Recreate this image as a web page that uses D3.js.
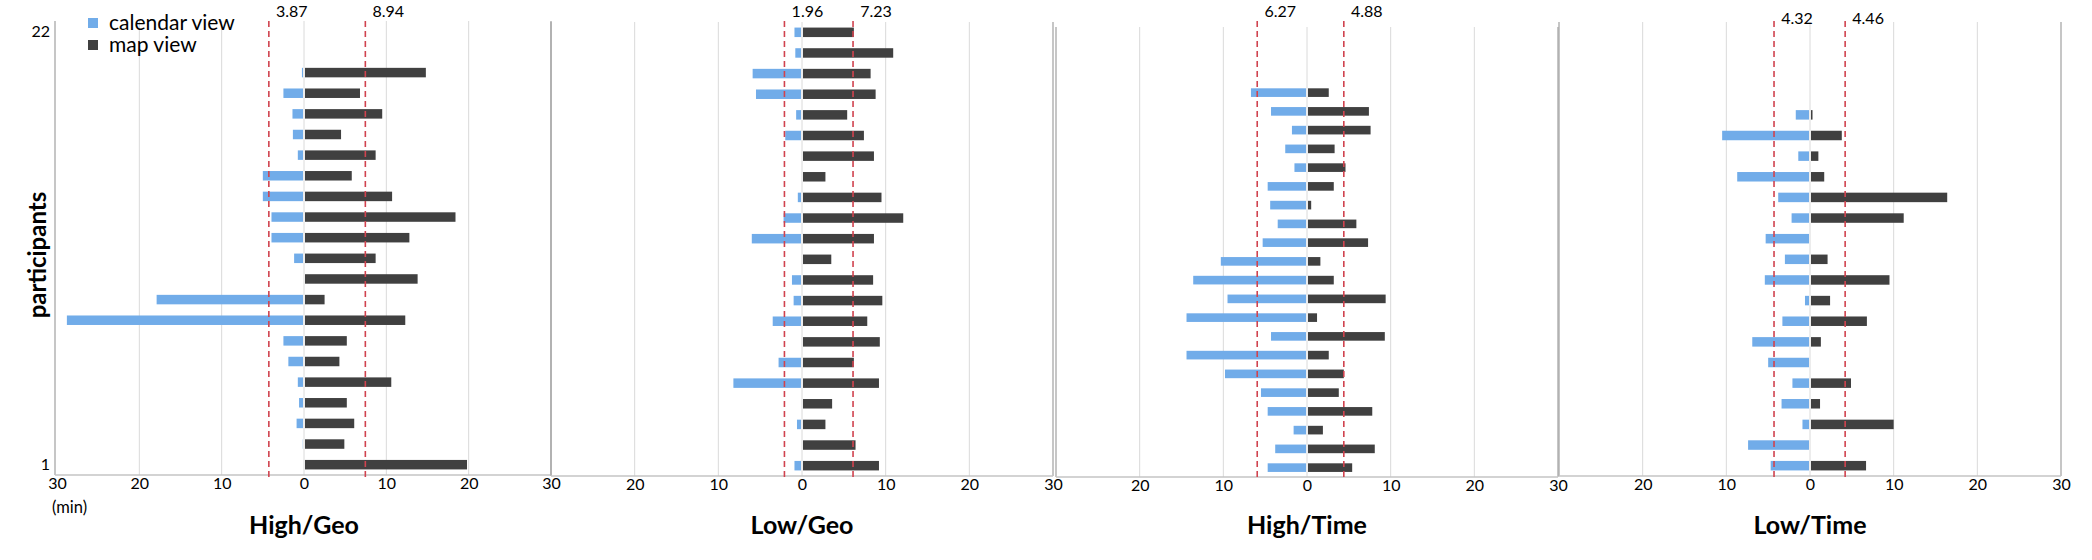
<!DOCTYPE html>
<html>
<head>
<meta charset="utf-8">
<script src="https://cdn.jsdelivr.net/npm/d3@7"></script>
<style>
  body { margin: 0; background: #fff; }
  svg text { font-family: Lato, "Open Sans", sans-serif; fill: #000; }
</style>
</head>
<body>
<svg id="chart" width="2092" height="560"></svg>
<script>
// ---- data (minutes, participant 1 first) ----
var panelNames = ["High/Geo", "Low/Geo", "High/Time", "Low/Time"];
var seriesNames = ["calendar view", "map view"];

var highGeoCalendar = [0, 0.15, 0.9, 0.6, 0.75, 1.9, 2.5, 28.8, 17.9, 0, 1.2, 3.95, 3.95, 5.0, 5.0, 0.75, 1.35, 1.4, 2.5, 0.25];
var highGeoMap      = [19.8, 4.9, 6.1, 5.2, 10.6, 4.3, 5.2, 12.3, 2.5, 13.8, 8.7, 12.8, 18.4, 10.7, 5.8, 8.7, 4.5, 9.5, 6.8, 14.8];

var lowGeoCalendar  = [0.9, 0, 0.6, 0.1, 8.2, 2.8, 0, 3.5, 1.0, 1.2, 0, 6.0, 2.2, 0.5, 0, 0, 2.0, 0.7, 5.5, 5.9, 0.8, 0.9];
var lowGeoMap       = [9.2, 6.4, 2.8, 3.6, 9.2, 6.2, 9.3, 7.8, 9.6, 8.5, 3.5, 8.6, 12.1, 9.5, 2.8, 8.6, 7.4, 5.4, 8.8, 8.2, 10.9, 6.2];

var highTimeCalendar = [4.7, 3.8, 1.6, 4.7, 5.5, 9.8, 14.4, 4.3, 14.4, 9.5, 13.6, 10.3, 5.3, 3.5, 4.4, 4.7, 1.5, 2.6, 1.8, 4.3, 6.7];
var highTimeMap      = [5.4, 8.1, 1.9, 7.8, 3.8, 4.4, 2.6, 9.3, 1.2, 9.4, 3.2, 1.6, 7.3, 5.9, 0.5, 3.2, 4.6, 3.3, 7.6, 7.4, 2.6];

var lowTimeCalendar = [4.7, 7.4, 0.9, 3.4, 2.1, 5.0, 6.9, 3.3, 0.6, 5.4, 3.0, 5.3, 2.2, 3.8, 8.7, 1.4, 10.5, 1.7];
var lowTimeMap      = [6.7, 0, 10.0, 1.2, 4.9, 0, 1.3, 6.8, 2.4, 9.5, 2.1, 0, 11.2, 16.4, 1.7, 1.0, 3.8, 0.3];

// dashed reference lines (min, calendar side negative) and their labels
var refLines  = [[-4.27, 7.45], [-2.1, 6.1], [-5.95, 4.4], [-4.3, 4.2]];
var refLabels = [["3.87", "8.94"], ["1.96", "7.23"], ["6.27", "4.88"], ["4.32", "4.46"]];

var slotCounts = [22, 22, 24, 22];
var xTicks = [-30, -20, -10, 0, 10, 20, 30];
var gridTicks = [-20, -10, 0, 10, 20];
var yTickLabels = [1, 22];

var calendarData = [highGeoCalendar, lowGeoCalendar, highTimeCalendar, lowTimeCalendar];
var mapData = [highGeoMap, lowGeoMap, highTimeMap, lowTimeMap];

// ---- layout ----
var panels = [
  {left: 57,   right: 551,  top: 21, bottom: 475},
  {left: 551,  right: 1053, top: 22, bottom: 476},
  {left: 1056, right: 1558, top: 27, bottom: 477},
  {left: 1559, right: 2061, top: 22, bottom: 476}
];

var calColor = "#71ace9";
var mapColor = "#404040";
var refColor = "#d0434f";

var svg = d3.select("#chart");

panels.forEach(function(p, i) {
  var g = svg.append("g");
  var x = d3.scaleLinear().domain([-30, 30]).range([p.left, p.right]);
  var y = d3.scaleBand()
    .domain(d3.range(1, slotCounts[i] + 1))
    .range([p.bottom, p.top])
    .paddingInner(0.54)
    .paddingOuter(0.27);

  // gridlines
  g.selectAll(".grid").data(gridTicks).enter().append("line")
    .attr("x1", function(d) { return x(d); })
    .attr("x2", function(d) { return x(d); })
    .attr("y1", p.top).attr("y2", p.bottom)
    .style("stroke", "#dadada").style("stroke-width", 1);

  // side axis lines
  g.selectAll(".side").data([-30, 30]).enter().append("line")
    .attr("x1", function(d) { return i == 0 && d < 0 ? x(d) - 2 : x(d); })
    .attr("x2", function(d) { return i == 0 && d < 0 ? x(d) - 2 : x(d); })
    .attr("y1", p.top).attr("y2", p.bottom)
    .style("stroke", "#a8a8a8").style("stroke-width", 1.3);

  // baseline
  g.append("line")
    .attr("x1", x(-30) - (i == 0 ? 2 : 0)).attr("x2", x(30))
    .attr("y1", p.bottom).attr("y2", p.bottom)
    .style("stroke", "#c4c4c4").style("stroke-width", 1.5);

  var rows = calendarData[i].map(function(c, k) {
    return {id: k + 1, cal: c, map: mapData[i][k]};
  });

  // calendar view bars (to the left)
  g.selectAll(".cal").data(rows.filter(function(d) { return d.cal > 0; })).enter().append("rect")
    .attr("x", function(d) { return x(-d.cal); })
    .attr("y", function(d) { return y(d.id); })
    .attr("width", function(d) { return Math.max(0, x(0) - x(-d.cal) - 1); })
    .attr("height", y.bandwidth())
    .style("fill", calColor);

  // map view bars (to the right)
  g.selectAll(".map").data(rows.filter(function(d) { return d.map > 0; })).enter().append("rect")
    .attr("x", x(0) + 1)
    .attr("y", function(d) { return y(d.id); })
    .attr("width", function(d) { return Math.max(0, x(d.map) - x(0) - 1); })
    .attr("height", y.bandwidth())
    .style("fill", mapColor);

  // dashed reference lines + labels
  g.selectAll(".ref").data(refLines[i]).enter().append("line")
    .attr("x1", function(d) { return x(d); })
    .attr("x2", function(d) { return x(d); })
    .attr("y1", 21).attr("y2", p.bottom + 2)
    .style("stroke", refColor).style("stroke-width", 1.6)
    .style("stroke-dasharray", "6,4");

  g.selectAll(".reflabel").data(refLines[i]).enter().append("text")
    .attr("x", function(d) { return x(d) + 23; })
    .attr("y", i == 3 ? 18 : 11)
    .attr("dy", "0.35em")
    .attr("text-anchor", "middle")
    .style("font-size", "16px")
    .text(function(d, k) { return refLabels[i][k]; });

  // x axis
  var ticks = i == 0 ? xTicks : xTicks.slice(1);
  var ax = g.append("g")
    .attr("transform", "translate(0," + p.bottom + ")")
    .call(d3.axisBottom(x).tickValues(ticks).tickSize(0).tickPadding(3)
      .tickFormat(function(d) { return Math.abs(d); }));
  ax.select(".domain").remove();
  ax.selectAll("text").style("font-size", "16px").style("font-family", "Lato, sans-serif").style("fill", "#000");

  // panel title
  g.append("text")
    .attr("x", x(0)).attr("y", 534)
    .attr("text-anchor", "middle")
    .style("font-size", "25px").style("font-weight", "700")
    .text(panelNames[i]);

  if (i == 0) {
    g.selectAll(".ylab").data(yTickLabels).enter().append("text")
      .attr("x", 50)
      .attr("y", function(d) { return y(d) + y.bandwidth() / 2; })
      .attr("dy", "0.35em")
      .attr("text-anchor", "end")
      .style("font-size", "16px")
      .text(function(d) { return d; });

    g.append("text")
      .attr("x", 52).attr("y", 507).attr("dy", "0.35em")
      .style("font-size", "16.5px")
      .text("(min)");

    g.append("text")
      .attr("transform", "translate(38,255) rotate(-90)")
      .attr("text-anchor", "middle")
      .attr("dy", "0.35em")
      .style("font-size", "24px").style("font-weight", "700")
      .text("participants");

    // legend
    var lg = g.selectAll(".legend").data(seriesNames).enter().append("g")
      .attr("transform", function(d, k) { return "translate(88," + (18 + k * 22) + ")"; });
    lg.append("rect")
      .attr("width", 10).attr("height", 10)
      .style("fill", function(d, k) { return k == 0 ? calColor : mapColor; });
    lg.append("text")
      .attr("x", 21).attr("y", 5).attr("dy", "0.35em")
      .style("font-size", "21px")
      .text(function(d) { return d; });
  }
});
</script>
</body>
</html>
